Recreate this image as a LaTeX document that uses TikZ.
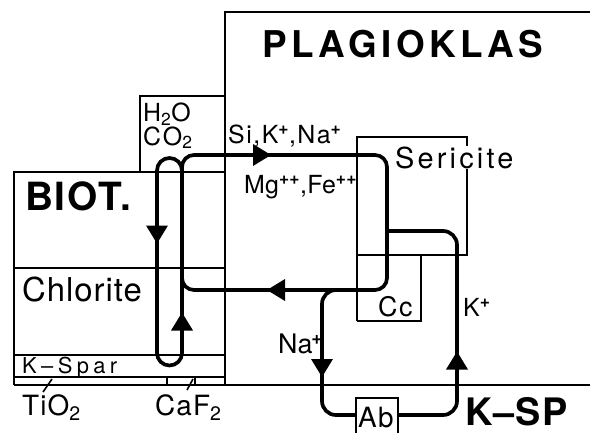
\documentclass[tikz,border=0pt]{standalone}
\usepackage{fontspec}
\setmainfont{TeX Gyre Heros}
\newcommand\sz[2]{\fontsize{#1}{#1}\selectfont\addfontfeature{LetterSpace=#2}}
\newcommand\pl[1]{\textsuperscript{\bfseries #1}}
\begin{document}
\begin{tikzpicture}[x=1bp,y=-1bp,
  thinl/.style={line width=1.6bp},
  flow/.style={line width=3.7bp, rounded corners=12bp},
  lab/.style={inner sep=0pt, anchor=base west},
  tri/.pic={\fill (9,0) -- (-9,11) -- (-9,-11) -- cycle;}]
\useasboundingbox (0,0) rectangle (590,432);
\clip (0,0) rectangle (590,432);
% Plagioklas
\draw[thinl] (595,12) -- (225,12) -- (225,385);
\draw[thinl] (14,385) -- (595,385);
% H2O / CO2 box
\draw[thinl] (140,172) -- (140,96) -- (225,96);
% Biotite
\draw[thinl] (14,385) -- (14,172) -- (225,172);
\draw[thinl] (14,268) -- (225,268);
\draw[thinl] (14,355) -- (225,355);
\draw[thinl] (14,377) -- (225,377);
\draw[thinl] (167,377) -- (167,385) (195,377) -- (195,385);
\draw[thinl] (52,379) -- (43,392);
\draw[thinl] (193,379) -- (187,390);
% Sericite, Cc, Ab
\draw[thinl] (357,321) -- (357,137) -- (467,137) -- (467,255) -- (357,255);
\draw[thinl] (421,255) -- (421,321) -- (357,321);
\draw[thinl] (356,440) -- (356,398) -- (398,398) -- (398,440);
% flows
\draw[flow,rounded corners=12.5bp] (157,250) -- (157,365.5) -- (182,365.5) -- (182,158) -- (157,158) -- cycle;
\draw[flow] (182,200) -- (182,155) -- (387,155) -- (387,290) -- (182,290) -- (182,250);
\draw[flow,rounded corners=14bp] (350,290) -- (322,290) -- (322,415) -- (356,415);
\draw[flow,rounded corners=14bp] (398,415) -- (457,415) -- (457,231) -- (387,231);
% arrows
\path (157,234.5) pic[rotate=-90]{tri};
\path (262,155) pic{tri};
\path (276,290) pic[rotate=180]{tri};
\path (182,321.5) pic[rotate=90]{tri};
\path (322,368) pic[rotate=-90]{tri};
\path (457,360.5) pic[rotate=90]{tri};
% labels
\node[lab] (plag) at (262,57) {\bfseries\sz{37}{12}PLAGIOKLAS};
\node[inner sep=0pt, anchor=base west, align=left,
  font={\fontsize{25}{22}\selectfont\addfontfeature{LetterSpace=8}}] (gas) at (143,145)
  {H\textsubscript{2}O\\CO\textsubscript{2}};
\node[lab] (ions) at (228,143) {\sz{25}{6}Si,K\pl{+},Na\pl{+}};
\node[lab] (mgfe) at (244,193) {\sz{25}{1}Mg\pl{++},Fe\pl{++}};
\node[lab] (biot) at (25,210) {\bfseries\sz{39}{4}BIOT.};
\node[lab] (chl) at (22,301) {\sz{33}{3}Chlorite};
\node[lab] (kspar) at (22,373) {\sz{22}{20}K--Spar};
\node[lab] (tio) at (22,415) {\sz{28}{4}TiO\textsubscript{2}};
\node[lab] (caf) at (155,415) {\sz{28}{4}CaF\textsubscript{2}};
\node[lab,fill=white] (ser) at (395,168) {\sz{29}{11}Sericite};
\node[lab] (cc) at (378,316) {\sz{27}{6}Cc};
\node[lab] (na) at (278,353) {\sz{27}{0}Na\kern-1pt\pl{+}};
\node[lab] (kp) at (463,316) {\sz{25}{2}K\pl{+}};
\node[lab] (ab) at (358,427) {\sz{28}{4}Ab};
\node[lab] (ksp) at (465,425) {\bfseries\sz{38}{3}K--SP};
\end{tikzpicture}
\end{document}
